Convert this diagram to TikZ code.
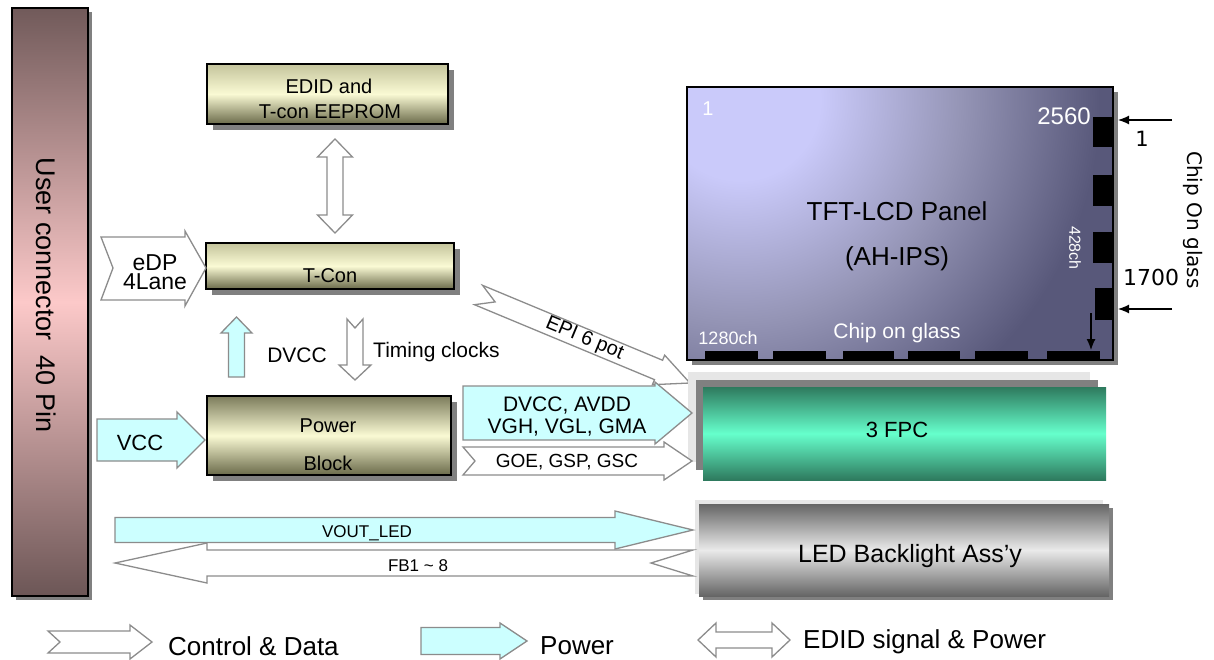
\documentclass[tikz,border=0pt]{standalone}
\usepackage{fontspec}
\setmainfont{Liberation Sans}
\newfontfamily\dejavu{DejaVu Sans}
\usetikzlibrary{shadows,arrows.meta}
\definecolor{cyanfill}{HTML}{CCFFFF}
\definecolor{arrline}{HTML}{8C8C8C}
\definecolor{shadowgray}{HTML}{808080}
\definecolor{olivetop}{HTML}{C4C49C}
\definecolor{olivedark}{HTML}{7C7C5C}
\definecolor{olivemid}{HTML}{FAFAD4}
\definecolor{olivebot}{HTML}{6A6A4A}
\definecolor{ucTop}{HTML}{715A5A}
\definecolor{ucMid}{HTML}{FCC9C9}
\definecolor{ucBot}{HTML}{6C5656}
\definecolor{pnLight}{HTML}{CACAFA}
\definecolor{pnMid}{HTML}{9595B6}
\definecolor{pnDark}{HTML}{58587A}
\definecolor{fpcEdge}{HTML}{2E7A5E}
\definecolor{fpcMid}{HTML}{66FFCC}
\definecolor{ledEdge}{HTML}{656565}
\definecolor{ledMid}{HTML}{EAEAEA}
\definecolor{bgGray}{HTML}{E6E6E6}
\pgfdeclareradialshading{panelshade}{\pgfpoint{0bp}{0bp}}{color(0bp)=(pnLight); color(4bp)=(pnLight); color(11bp)=(pnMid); color(18bp)=(pnDark); color(25bp)=(pnDark); color(50bp)=(pnDark)}
\newcommand{\fsz}[1]{\fontsize{#1}{#1}\selectfont}
\begin{document}
\begin{tikzpicture}[x=1pt,y=-1pt,
  box/.style={draw=black, line width=1.3pt, inner sep=0pt},
  boxshadow/.style={drop shadow={shadow xshift=6pt, shadow yshift=-6pt, fill=shadowgray, opacity=1}},
  olive/.style={box, boxshadow, top color=olivetop, bottom color=olivebot, middle color=olivemid},
  olivedk/.style={box, boxshadow, top color=olivedark, bottom color=olivebot, middle color=olivemid},
  carrow/.style={draw=arrline, line width=1.3pt, fill=white, line join=miter},
  parrow/.style={draw=arrline, line width=1.3pt, fill=cyanfill, line join=miter},
  lbl/.style={inner sep=0pt, font=\fsz{20}},
  wlbl/.style={inner sep=0pt, text=white, font=\fsz{20}},
  pad/.style={fill=black},
  thinarrow/.style={line width=1.2pt, -{Latex[length=11pt,width=9pt]}}]
\useasboundingbox (0,0) rectangle (1214,660);
\fill[white] (0,0) rectangle (1214,660);

% user connector
\node[box, top color=ucTop, bottom color=ucBot, middle color=ucMid,
  drop shadow={shadow xshift=4pt, shadow yshift=-4pt, fill=shadowgray, opacity=1},
  minimum width=76pt, minimum height=588pt] (uc) at (50,302) {};
\node[lbl, rotate=-90, font=\fsz{27}] (uct) at (46,295) {User connector\ \ 40 Pin};

% EDID / T-con / Power
\node[olive, minimum width=241pt, minimum height=60pt] (edid) at (327.5,94) {};
\node[lbl] (edidt1) at (329,86) {EDID and};
\node[lbl] (edidt2) at (330,112) {T-con EEPROM};
\node[olive, minimum width=248pt, minimum height=46pt] (tcon) at (330,266) {};
\node[lbl] (tcont) at (330,276) {T-Con};
\node[olivedk, minimum width=244pt, minimum height=79pt] (power) at (329,435.5) {};
\node[lbl] (powt1) at (328,426) {Power};
\node[lbl] (powt2) at (328,463) {Block};

% EDID <-> T-Con double arrow
\draw[carrow] (335,139) -- (352.5,157) -- (343,157) -- (343,215) -- (352.5,215) -- (335,233)
  -- (317.5,215) -- (327,215) -- (327,157) -- (317.5,157) -- cycle;

% eDP arrow
\draw[carrow] (101,237) -- (185,237) -- (185,231) -- (206,268) -- (185,306) -- (185,300) -- (101,300) -- (113,268) -- cycle;
\node[lbl, align=center, font=\fontsize{23}{19}\selectfont] (edp) at (155,272) {eDP\\4Lane};

% DVCC up arrow
\draw[parrow] (228.5,377) -- (228.5,333) -- (221,333) -- (236.5,317) -- (252,333) -- (244.5,333) -- (244.5,377) -- cycle;
\node[lbl, font=\fsz{21}] (dvcc) at (297,355) {DVCC};

% timing clocks down arrow
\draw[carrow] (347,319) -- (355,328) -- (363,319) -- (363,365) -- (371,365) -- (355,380) -- (339,365) -- (347,365) -- cycle;
\node[lbl, font=\fsz{21}, anchor=west] (timing) at (373,352) {Timing clocks};

% VCC arrow
\draw[parrow] (97,419) -- (177,419) -- (177,412) -- (205,440) -- (177,468) -- (177,461) -- (97,461) -- cycle;
\node[lbl, font=\fsz{22}] (vcc) at (140,443) {VCC};

% EPI arrow
\begin{scope}[shift={(478.5,295)}, rotate=-22.6]
\draw[carrow] (0,-10.5) -- (195,-10.5) -- (195,-16) -- (229,0) -- (195,16) -- (195,10.5) -- (0,10.5) -- (18,0) -- cycle;
\end{scope}
\node[lbl, rotate=-22.6] (epi) at (584.5,339) {EPI 6 pot};

% FPC group
\fill[bgGray] (688,372) rectangle (1090,462);
\fill[shadowgray] (696,380) rectangle (1098,470);
\node[inner sep=0pt, top color=fpcEdge, bottom color=fpcEdge, middle color=fpcMid,
  minimum width=403pt, minimum height=93pt] (fpc) at (904.5,433.5) {};
\node[lbl, font=\fsz{22}] (fpct) at (897,430) {3 FPC};

% bundle arrows to FPC
\draw[parrow] (463,386) -- (655,386) -- (655,382) -- (692,413) -- (655,444) -- (655,440) -- (463,440) -- cycle;
\draw[carrow] (463,447) -- (664,447) -- (664,442) -- (692,461) -- (664,480) -- (664,475) -- (463,475) -- (475,461) -- cycle;
\node[lbl, align=center, font=\fontsize{21}{22}\selectfont] (bund) at (567,417) {DVCC, AVDD\\VGH, VGL, GMA};
\node[lbl, font=\fsz{19}] (goe) at (567,462) {GOE, GSP, GSC};

% LED backlight
\fill[bgGray] (695,500) rectangle (1103,594);
\node[inner sep=0pt, top color=ledEdge, bottom color=ledEdge, middle color=ledMid,
  drop shadow={shadow xshift=4pt, shadow yshift=-4pt, fill=shadowgray, opacity=1},
  minimum width=410pt, minimum height=92pt] (led) at (904,550) {};
\node[lbl, font=\fsz{25}] (ledt) at (910,556) {LED Backlight Ass’y};

% VOUT / FB arrows
\draw[parrow] (115,517.5) -- (615,517.5) -- (615,511) -- (693,530) -- (615,549) -- (615,542.5) -- (115,542.5) -- cycle;
\draw[carrow] (115,563) -- (207,543) -- (207,550) -- (693,550) -- (651,563) -- (693,576) -- (207,576) -- (207,583) -- cycle;
\node[lbl, font=\fsz{17}] (vout) at (367,533) {VOUT\_LED};
\node[lbl, font=\fsz{17}] (fb) at (418,566) {FB1 \textasciitilde{} 8};

% Panel
\fill[shadowgray] (692,92) rectangle (1118,365);
\begin{scope}
\clip (687,87) rectangle (1113,360);
\shade[shading=panelshade] (740,100) circle (500);
\end{scope}
\node[box, minimum width=426pt, minimum height=273pt] (panel) at (900,223.5) {};
\fill[pad] (705,351) rectangle (758,359);
\fill[pad] (773,351) rectangle (826,359);
\fill[pad] (843,351) rectangle (894,359);
\fill[pad] (908,351) rectangle (960,359);
\fill[pad] (975,351) rectangle (1028,359);
\fill[pad] (1047,351) rectangle (1100,359);
\fill[pad] (1093,117) rectangle (1112,147);
\fill[pad] (1093,175) rectangle (1112,206);
\fill[pad] (1093,232) rectangle (1112,263);
\fill[pad] (1095,288) rectangle (1112,320);
\node[wlbl] (p1) at (708,109) {1};
\node[wlbl, font=\fsz{24}] (p2560) at (1064,116) {2560};
\node[lbl, font=\fsz{26}] (tft) at (897,211) {TFT-LCD Panel};
\node[lbl, font=\fsz{26}] (ahips) at (897,259) {(AH-IPS)};
\node[wlbl, font=\fsz{16}, rotate=-90] (ch428) at (1075,248) {428ch};
\node[wlbl, font=\fsz{18}] (ch1280) at (728,338) {1280ch};
\node[wlbl, font=\fsz{21}] (cog) at (897,333) {Chip on glass};
\coordinate (dA) at (1091,313);
\coordinate (dB) at (1091,350);
\draw[thinarrow] (dA) -- (dB);
\coordinate (rA1) at (1172,120);
\coordinate (rB1) at (1118,120);
\coordinate (rA2) at (1172,309);
\coordinate (rB2) at (1118,309);
\draw[thinarrow] (rA1) -- (rB1);
\draw[thinarrow] (rA2) -- (rB2);
\node[lbl, font=\dejavu\fsz{21}] (r1) at (1142,139) {1};
\node[lbl, font=\dejavu\fsz{22}] (r1700) at (1151,277) {1700};
\node[lbl, font=\dejavu\fsz{20}, rotate=-90] (rcog) at (1193,220) {Chip On glass};

% Legend
\draw[carrow] (48,631) -- (130,631) -- (130,625) -- (152,642) -- (130,659) -- (130,653) -- (48,653) -- (60,642) -- cycle;
\node[lbl, font=\fsz{26}, anchor=west] (lg1) at (168,646) {Control \& Data};
\draw[parrow] (421,627.5) -- (500,627.5) -- (500,623) -- (527,641) -- (500,659) -- (500,654.5) -- (421,654.5) -- cycle;
\node[lbl, font=\fsz{26}, anchor=west] (lg2) at (540,646) {Power};
\draw[carrow] (698,640) -- (716,623) -- (716,632) -- (772,632) -- (772,623) -- (790,640) -- (772,657) -- (772,648) -- (716,648) -- (716,657) -- cycle;
\node[lbl, font=\fsz{26}, anchor=west] (lg3) at (803,642) {EDID signal \& Power};
\end{tikzpicture}
\end{document}
